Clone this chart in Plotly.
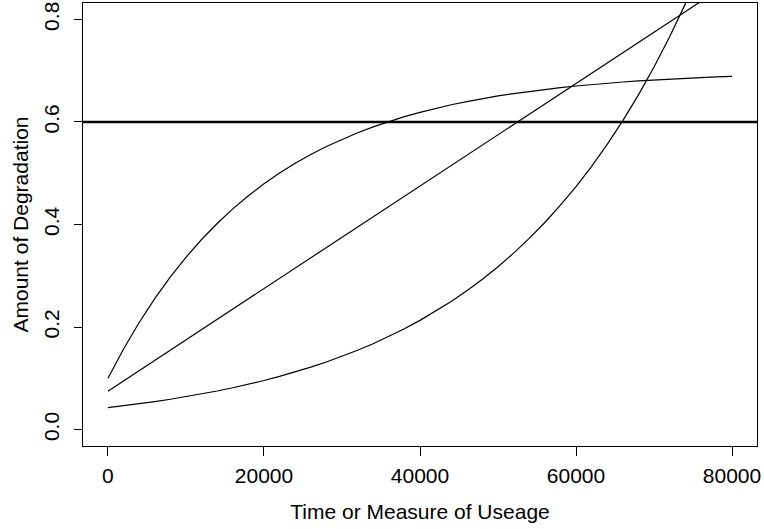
import plotly.graph_objects as go

# x positions (Time or Measure of Useage)
x_vals = [0, 2000, 4000, 6000, 8000, 10000, 12000, 14000, 16000, 18000,
          20000, 22000, 24000, 26000, 28000, 30000, 32000, 34000, 36000, 38000,
          40000, 42000, 44000, 46000, 48000, 50000, 52000, 54000, 56000, 58000,
          60000, 62000, 64000, 66000, 68000, 70000, 72000, 74000, 76000, 78000,
          80000]

# concave (rapid early) degradation curve
concave_y = [0.1000, 0.1571, 0.2088, 0.2555, 0.2978, 0.3361, 0.3707, 0.4020, 0.4304, 0.4561,
             0.4793, 0.5003, 0.5193, 0.5365, 0.5520, 0.5661, 0.5789, 0.5904, 0.6008, 0.6103,
             0.6188, 0.6265, 0.6335, 0.6398, 0.6456, 0.6507, 0.6554, 0.6597, 0.6635, 0.6670,
             0.6701, 0.6730, 0.6755, 0.6779, 0.6800, 0.6819, 0.6836, 0.6852, 0.6866, 0.6879,
             0.6890]

# linear degradation
linear_x = [0, 80000]
linear_y = [0.075, 0.875]

# convex (accelerating) degradation curve
convex_y = [0.0430, 0.0466, 0.0505, 0.0547, 0.0592, 0.0642, 0.0695, 0.0753, 0.0816, 0.0883,
            0.0957, 0.1037, 0.1123, 0.1217, 0.1318, 0.1428, 0.1547, 0.1675, 0.1815, 0.1966,
            0.2130, 0.2307, 0.2499, 0.2708, 0.2933, 0.3177, 0.3442, 0.3729, 0.4039, 0.4376,
            0.4740, 0.5135, 0.5562, 0.6026, 0.6528, 0.7071, 0.7660, 0.8298, 0.8989, 0.9738,
            1.0549]

threshold = 0.6

x_ticks = [0, 20000, 40000, 60000, 80000]
y_ticks = [0.0, 0.2, 0.4, 0.6, 0.8]
y_tick_text = ["0.0", "0.2", "0.4", "0.6", "0.8"]

FONT = "Liberation Sans, Arial, Helvetica, sans-serif"
FS = 21

fig = go.Figure()
line_style = dict(color="black", width=1.2)
fig.add_trace(go.Scatter(x=x_vals, y=concave_y, mode="lines", line=line_style, showlegend=False))
fig.add_trace(go.Scatter(x=linear_x, y=linear_y, mode="lines", line=line_style, showlegend=False))
fig.add_trace(go.Scatter(x=x_vals, y=convex_y, mode="lines", line=line_style, showlegend=False))
fig.add_hline(y=threshold, line=dict(color="black", width=2.5))

fig.update_layout(
    width=764, height=529,
    margin=dict(l=83, r=7, t=3, b=83, autoexpand=False),
    paper_bgcolor="white", plot_bgcolor="white",
    font=dict(family=FONT, size=FS, color="black"),
    showlegend=False,
)
fig.update_xaxes(
    range=[-3200, 83200], tickvals=x_ticks, ticktext=[str(v) for v in x_ticks],
    showgrid=False, zeroline=False, showline=True, mirror=True,
    linecolor="black", linewidth=1, ticks="outside", ticklen=9, tickcolor="black",
    tickwidth=1, ticklabelstandoff=2, automargin=False,
    title=dict(text="Time or Measure of Useage", standoff=18, font=dict(size=FS)),
)
fig.update_yaxes(
    range=[-0.032, 0.832], tickvals=y_ticks, ticktext=y_tick_text, tickangle=-90,
    showgrid=False, zeroline=False, showline=True, mirror=True,
    linecolor="black", linewidth=1, ticks="outside", ticklen=8, tickcolor="black",
    tickwidth=1, ticklabelstandoff=7, automargin=False,
    title=dict(text="Amount of Degradation", standoff=5, font=dict(size=FS)),
)

fig.write_html(
    "out.html",
    config={"displayModeBar": False},
    post_script="document.body.style.margin='0';document.body.style.overflow='hidden';",
)
